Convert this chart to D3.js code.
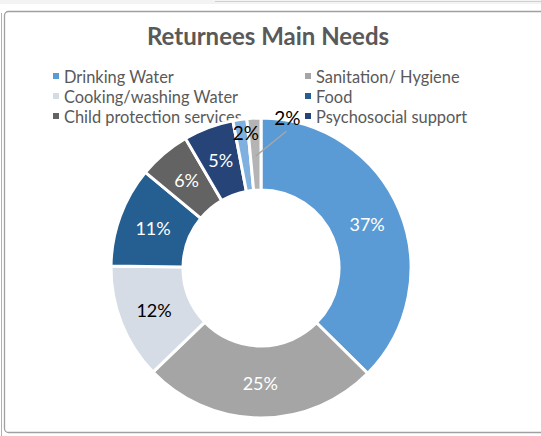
<!DOCTYPE html>
<html><head><meta charset="utf-8">
<script src="https://cdn.jsdelivr.net/npm/d3@7/dist/d3.min.js"></script>
<style>
html,body{margin:0;padding:0;background:#fff;}
svg{display:block;font-family:Lato,"Noto Sans",sans-serif;}
</style></head>
<body>
<svg id="chart" width="541" height="436"></svg>
<script>
// ---- data ----
const title = "Returnees Main Needs";
const categories = ["Drinking Water","Sanitation/ Hygiene","Cooking/washing Water","Food",
  "Child protection services","Psychosocial support","Other need A","Other need B"];
const legendCategories = categories.slice(0, 6);
const values = [37.4, 25.4, 12.4, 10.8, 5.6, 5.4, 1.5, 1.5];
const colors = ["#5B9BD5","#A5A5A5","#D6DCE5","#255E91","#636363","#264478","#7FB0E0","#B4B4B4"];
const labelColors = ["#fff","#fff","#000","#fff","#fff","#fff","#000","#000"];

// ---- drawing ----
const svg = d3.select("#chart");
const W = 541, H = 436;
const cx = 261, cy = 268, rOuter = 150, rInner = 78, rLabel = 115;

// background artefacts / frame
svg.append("rect").attr("x",0).attr("y",0).attr("width",W).attr("height",4).attr("fill","#f3f3f3");
svg.append("line").attr("x1",215).attr("x2",W).attr("y1",1.5).attr("y2",1.5).attr("stroke","#d0d0d0").attr("stroke-width",1);
svg.append("line").attr("x1",1.5).attr("x2",1.5).attr("y1",13).attr("y2",H).attr("stroke","#b0b0b0");
svg.append("rect").attr("x",4.5).attr("y",11.5).attr("width",W+10).attr("height",421)
  .attr("rx",4).attr("fill","#fff").attr("stroke","#a0a0a0").attr("stroke-width",1.3);

svg.append("text").attr("x",268).attr("y",35).attr("text-anchor","middle")
  .attr("dominant-baseline","central").attr("font-size",24).attr("font-weight","bold")
  .attr("fill","#595959").text(title);

// legend
const legX = [53, 305], legY = d3.scalePoint().domain([0,1,2]).range([76,116]);
const leg = svg.append("g").selectAll("g").data(legendCategories).join("g")
  .attr("transform",(d,i)=>`translate(${legX[i%2]},${legY(Math.floor(i/2))})`);
leg.append("rect").attr("x",0).attr("y",-3).attr("width",6).attr("height",6).attr("fill",(d,i)=>colors[i]);
leg.append("text").attr("x",11).attr("y",0).attr("dominant-baseline","central")
  .attr("font-size",16.4).attr("fill","#595959").text(d=>d);

// donut
const total = d3.sum(values);
const pie = d3.pie().sort(null).value(d=>d);
const arcs = pie(values);
const arc = d3.arc().innerRadius(rInner).outerRadius(rOuter);
const g = svg.append("g").attr("transform",`translate(${cx},${cy})`);
g.selectAll("path").data(arcs).join("path").attr("d",arc)
  .attr("fill",(d,i)=>colors[i]).attr("stroke","#fff").attr("stroke-width",3).attr("stroke-linejoin","miter");

const pct = v => Math.round(v/total*100) + "%";
const mid = d => (d.startAngle + d.endAngle)/2;
const polar = (a, r) => [r*Math.sin(a), -r*Math.cos(a)];
// label placement rules (style): radius and angle shift per slice
const labelRule = i => i === 6 ? {r:136, da:0.03} : i === 7 ? {r:153, da:0.22, leader:true} : {r:rLabel, da:0};

arcs.forEach((d,i)=>{
  const rule = labelRule(i);
  const [x,y] = polar(mid(d)+rule.da, rule.r);
  if (rule.leader) {
    const [x0,y0] = polar(mid(d), 112);
    g.append("line").attr("x1",x0).attr("y1",y0).attr("x2",x-1).attr("y2",y+14)
      .attr("stroke","#a6a6a6").attr("stroke-width",1.3);
  }
  g.append("text").attr("x",x).attr("y",y).attr("text-anchor","middle").attr("dominant-baseline","central")
    .attr("font-size", i >= 6 ? 19 : 18).attr("fill",labelColors[i]).text(pct(d.value));
});
</script>
</body></html>
